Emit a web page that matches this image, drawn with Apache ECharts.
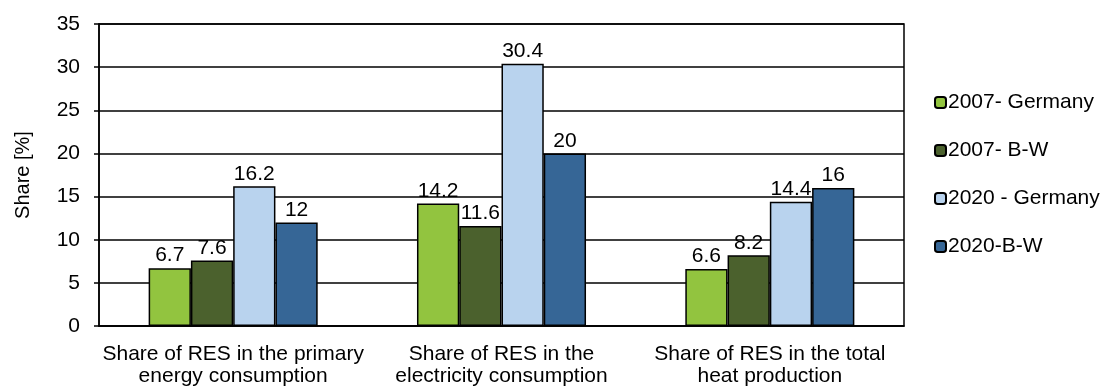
<!DOCTYPE html>
<html>
<head>
<meta charset="utf-8">
<script src="https://cdn.jsdelivr.net/npm/echarts@6/dist/echarts.min.js"></script>
<style>
  html, body { margin: 0; padding: 0; background: #fff; }
  #chart { width: 1102px; height: 387px; }
</style>
</head>
<body>
<div id="chart"></div>
<script>
// Renewable energy shares by indicator
const categories = [
  'Share of RES in the primary\nenergy consumption',
  'Share of RES in the\nelectricity consumption',
  'Share of RES in the total\nheat production'
];
const seriesNames = ['2007- Germany', '2007- B-W', '2020 - Germany', '2020-B-W'];
const germany2007 = [6.7, 14.2, 6.6];
const bw2007 = [7.6, 11.6, 8.2];
const germany2020 = [16.2, 30.4, 14.4];
const bw2020 = [12, 20, 16];
const yTicks = [0, 5, 10, 15, 20, 25, 30, 35];

const values = [germany2007, bw2007, germany2020, bw2020];
const colors = ['#92C43F', '#4B612D', '#B9D3EE', '#366696'];
const font = 'Liberation Sans, Arial, sans-serif';

const chart = echarts.init(document.getElementById('chart'));
chart.setOption({
  animation: false,
  textStyle: { fontFamily: font },
  grid: {
    left: 99, right: 198, top: 24, bottom: 61,
    show: true, borderColor: '#000', borderWidth: 1.5
  },
  legend: {
    orient: 'vertical',
    left: 929, top: 87,
    itemWidth: 11, itemHeight: 11,
    itemGap: 27,
    textStyle: { fontSize: 21, color: '#000', fontFamily: font, padding: [0, 0, 0, -3] },
    data: seriesNames
  },
  xAxis: {
    type: 'category',
    data: categories,
    axisLine: { lineStyle: { color: '#000', width: 1.5 } },
    axisTick: { length: 6, lineStyle: { color: '#000', width: 1.5 } },
    axisLabel: {
      color: '#000', fontSize: 21, lineHeight: 22, margin: 17,
      fontFamily: font, interval: 0
    }
  },
  yAxis: {
    type: 'value',
    min: yTicks[0], max: yTicks[yTicks.length - 1], interval: 5,
    name: 'Share [%]',
    nameLocation: 'middle',
    nameGap: 66,
    nameTextStyle: { fontSize: 20, color: '#000', fontFamily: font },
    axisLine: { show: true, lineStyle: { color: '#000', width: 1.5 } },
    axisTick: { show: true, length: 5, lineStyle: { color: '#000', width: 1.5 } },
    axisLabel: { color: '#000', fontSize: 21, margin: 19, fontFamily: font },
    splitLine: { lineStyle: { color: '#000', width: 1.5 } }
  },
  series: seriesNames.map((name, i) => ({
    name: name,
    type: 'bar',
    data: values[i],
    barGap: '0%',
    barCategoryGap: '37%',
    itemStyle: { color: colors[i], borderColor: '#000', borderWidth: 1.5 },
    label: {
      show: true, position: 'top', distance: 2,
      color: '#000', fontSize: 21, fontFamily: font
    }
  }))
});
</script>
</body>
</html>
